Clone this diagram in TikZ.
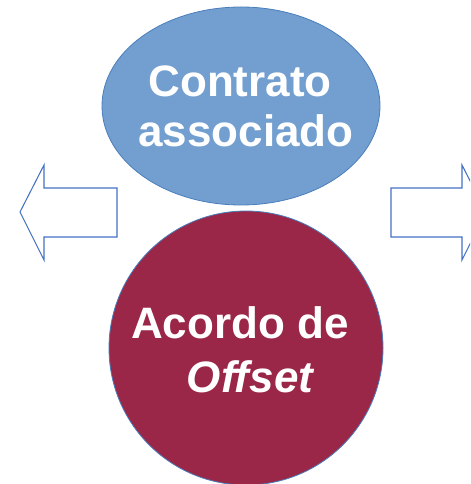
\documentclass[tikz,border=0pt]{standalone}
\usepackage{fontspec}
\setmainfont{Liberation Sans}
\usetikzlibrary{shapes.geometric}
\definecolor{ovalblue}{RGB}{114,159,208}
\definecolor{edgeblue}{RGB}{74,126,187}
\definecolor{arrowblue}{RGB}{68,114,196}
\definecolor{offsetred}{RGB}{154,39,72}
\tikzset{
  arrowline/.style={draw=arrowblue, line width=0.8pt, fill=white},
  bigtext/.style={text=white, anchor=base, inner sep=0pt, font=\fontsize{33}{38}\selectfont\bfseries}
}
\begin{document}
\begin{tikzpicture}[x=0.75pt,y=0.75pt,yscale=-1,xscale=1]
\useasboundingbox (0,0) rectangle (470,484);
\clip (0,0) rectangle (470,484);

% Left arrow
\draw[arrowline] (117,188) -- (44,188) -- (44,165) -- (20,212) -- (44,260) -- (44,237) -- (117,237) -- cycle;
% Right arrow
\draw[arrowline] (391,188) -- (462,188) -- (462,165) -- (486,212) -- (462,260) -- (462,237) -- (391,237) -- cycle;

% Ellipse
\node[ellipse, draw=edgeblue, fill=ovalblue, line width=0.6pt, inner sep=0pt, minimum width=208.5pt, minimum height=148.5pt] (contrato) at (241,106) {};
% Circle
\node[circle, draw=edgeblue, fill=offsetred, line width=0.6pt, inner sep=0pt, minimum size=205.5pt] (acordo) at (246,348) {};

% Text Node
\node[bigtext] (contratoa) at (240,97) {Contrato};
% Text Node
\node[bigtext] (contratob) at (246,147) {associado};
% Text Node
\node[bigtext] (acordoa) at (240,338) {Acordo de};
% Text Node
\node[bigtext] (acordob) at (250,392) {\itshape Offset};
\end{tikzpicture}
\end{document}
